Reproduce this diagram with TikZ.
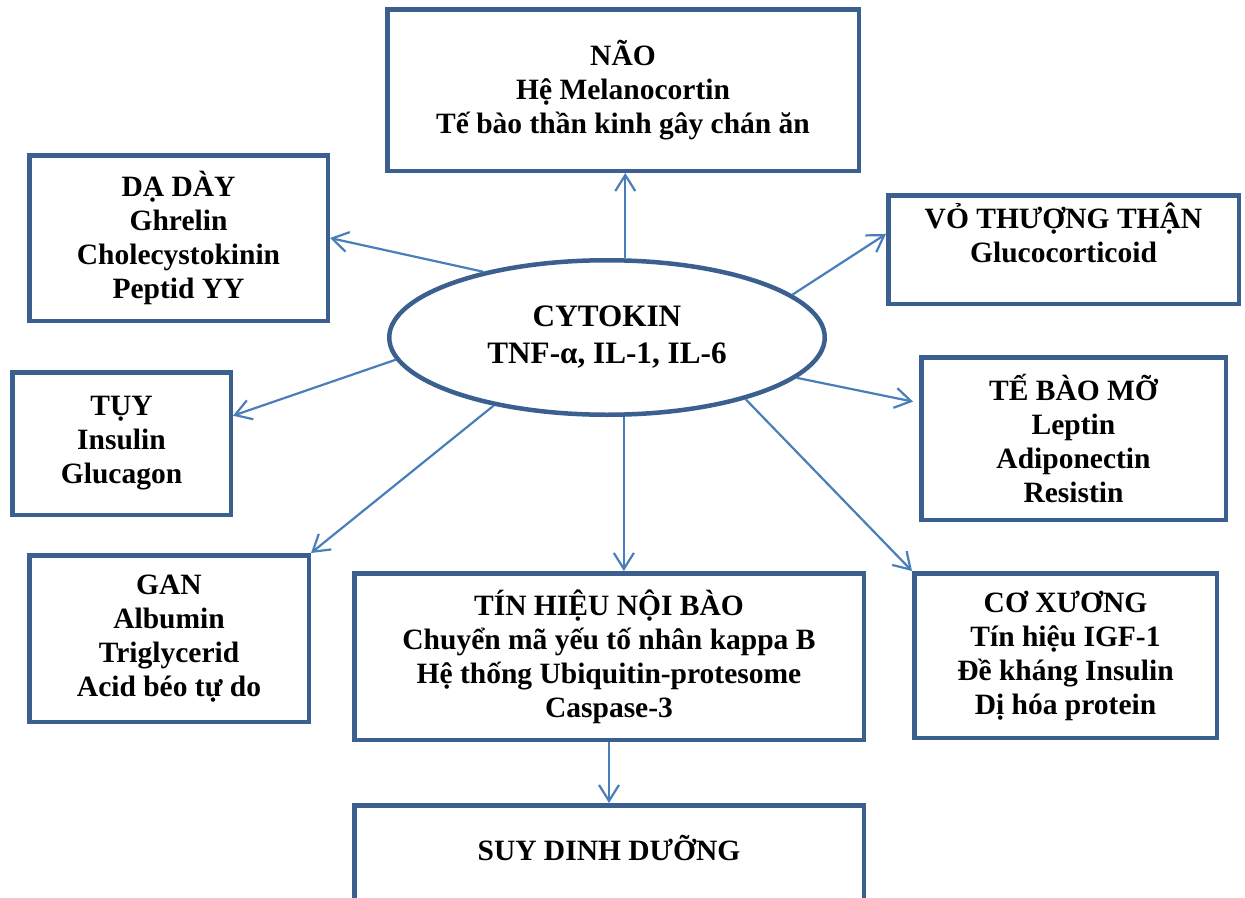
\documentclass[tikz,border=0pt]{standalone}
\usepackage{fontspec}
\setmainfont{Liberation Serif}
\usepackage{tikz}
\usetikzlibrary{shapes,arrows.meta}
\definecolor{vienxanh}{HTML}{3B5F8F}
\definecolor{muixanh}{HTML}{4A7EBB}
\newcommand{\chu}{\fontsize{29.5}{34}\selectfont\bfseries}
\tikzstyle{khoi} = [draw=vienxanh, line width=4.5pt, rectangle, fill=white, align=center, inner sep=0pt, font=\chu]
\tikzstyle{trungtam} = [draw=vienxanh, line width=4.5pt, ellipse, fill=white, align=center, inner sep=0pt, minimum width=435.5pt, minimum height=154.5pt, font=\fontsize{31.2}{37}\selectfont\bfseries]
\tikzstyle{muiten} = [draw=muixanh, line width=2.2pt, -{Straight Barb[length=16pt,width=20pt]}]

\begin{document}
\begin{tikzpicture}[x=1pt,y=-1pt]
	\useasboundingbox (0,0) rectangle (1245,897);
	\node [trungtam] (cytokin) at (607,337.5) {CYTOKIN\\TNF-α, IL-1, IL-6};
	\node [khoi, minimum width=471.5pt, minimum height=161.5pt] (nao) at (623,90) {NÃO\\Hệ Melanocortin\\Tế bào thần kinh gây chán ăn};
	\node [khoi, minimum width=298.5pt, minimum height=165.5pt] (daday) at (178.5,238) {DẠ DÀY\\Ghrelin\\Cholecystokinin\\Peptid YY};
	\node [khoi, minimum width=350.5pt, minimum height=108.5pt] (vo) at (1063.5,249.5) {VỎ THƯỢNG THẬN\\Glucocorticoid\\ \mbox{}};
	\node [khoi, minimum width=218.5pt, minimum height=142.5pt] (tuy) at (121.5,443.5) {TỤY\\Insulin\\Glucagon};
	\node [khoi, minimum width=304.5pt, minimum height=162.5pt] (mo) at (1073.5,438.5) {TẾ BÀO MỠ\\Leptin\\Adiponectin\\Resistin};
	\node [khoi, minimum width=279.5pt, minimum height=166.5pt] (gan) at (169,638.5) {GAN\\Albumin\\Triglycerid\\Acid béo tự do};
	\node [khoi, minimum width=509.5pt, minimum height=166.5pt] (tinhieu) at (609,656.5) {TÍN HIỆU NỘI BÀO\\Chuyển mã yếu tố nhân kappa B\\Hệ thống Ubiquitin-protesome\\Caspase-3};
	\node [khoi, minimum width=302.5pt, minimum height=164.5pt] (coxuong) at (1065.5,655.5) {CƠ XƯƠNG\\Tín hiệu IGF-1\\Đề kháng Insulin\\Dị hóa protein};
	\node [khoi, minimum width=509.5pt, text height=54.75pt, text depth=60pt, anchor=north] (suy) at (609,803) {SUY DINH DƯỠNG};

	\draw [muiten] (cytokin.77) -- (cytokin.77 |- nao.south);
	\draw [muiten] (cytokin.152) -- (daday.east);
	\draw [muiten] (cytokin.13) -- (vo.175);
	\draw [muiten] (cytokin.186) -- (tuy.14);
	\draw [muiten, shorten >=6pt] (cytokin.-12) -- (mo.167);
	\draw [muiten] (cytokin.211) -- (gan.north east);
	\draw [muiten] (cytokin.282) -- (cytokin.282 |- tinhieu.north);
	\draw [muiten] (cytokin.-24) -- (coxuong.north west);
	\draw [muiten] (tinhieu.south) -- (suy.north);
\end{tikzpicture}
\end{document}
